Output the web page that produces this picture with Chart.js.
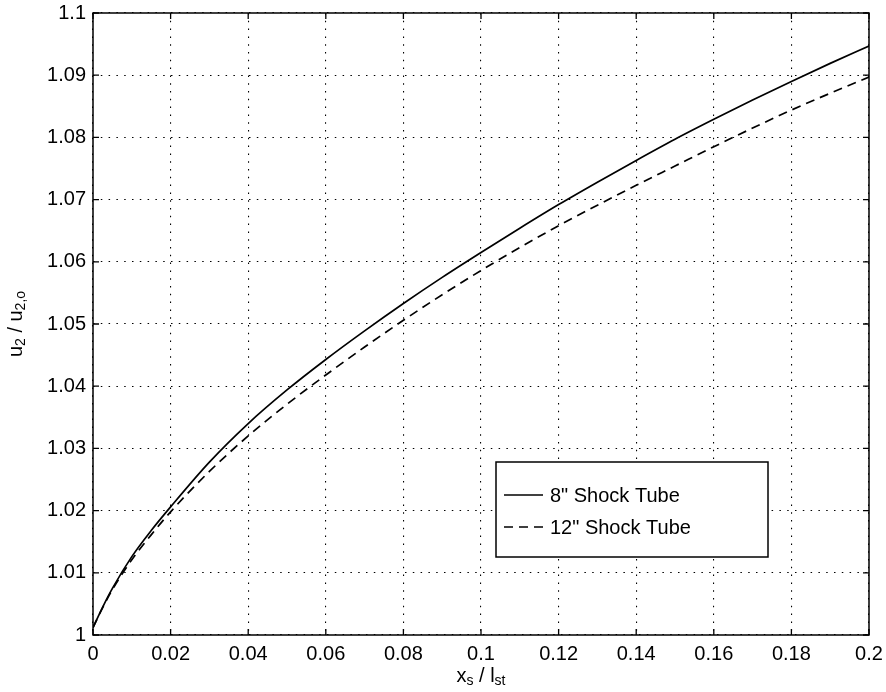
<!DOCTYPE html>
<html lang="en">
<head>
<meta charset="UTF-8">
<title>u2 / u2,o vs xs / lst</title>
<style>
  html, body { margin: 0; padding: 0; background: #fff; }
  #wrap { width: 886px; height: 692px; }
</style>
</head>
<body>
<div id="wrap"><canvas id="chart" width="886" height="692"></canvas></div>

<script src="https://cdn.jsdelivr.net/npm/chart.js"></script>
<script>
  // shock position along the tube, normalised
  const xPos = [0, 0.0025, 0.005, 0.01, 0.015, 0.02, 0.03, 0.04, 0.05, 0.06, 0.07, 0.08, 0.09,
                0.1, 0.11, 0.12, 0.13, 0.14, 0.15, 0.16, 0.17, 0.18, 0.19, 0.2];
  // velocity ratio, 8 inch tube
  const tube8 = [1.0012, 1.0045, 1.0075, 1.0126, 1.0168, 1.0206, 1.0278, 1.0340, 1.0394, 1.0443,
                 1.0489, 1.0533, 1.0575, 1.0615, 1.0654, 1.0692, 1.0728, 1.0763, 1.0797, 1.0829,
                 1.0860, 1.0890, 1.0919, 1.0947];
  // velocity ratio, 12 inch tube
  const tube12 = [1.0012, 1.0044, 1.0073, 1.0121, 1.0161, 1.0198, 1.0263, 1.0320, 1.0371, 1.0418,
                  1.0463, 1.0506, 1.0547, 1.0586, 1.0623, 1.0658, 1.0691, 1.0723, 1.0754, 1.0785,
                  1.0815, 1.0844, 1.0871, 1.0897];

  const xTickLabels = ['0', '0.02', '0.04', '0.06', '0.08', '0.1', '0.12', '0.14', '0.16', '0.18', '0.2'];
  const yTickLabels = ['1', '1.01', '1.02', '1.03', '1.04', '1.05', '1.06', '1.07', '1.08', '1.09', '1.1'];
  const seriesNames = ['8" Shock Tube', '12" Shock Tube'];

  const FONT = '"Liberation Sans", Arial, Helvetica, sans-serif';
  const DASH = [9, 6];

  // text with subscript pieces: parts = [[text, isSub], ...]
  function subTextWidth(ctx, parts, size) {
    let w = 0;
    parts.forEach(p => {
      ctx.font = (p[1] ? Math.round(size * 0.68) : size) + 'px ' + FONT;
      w += ctx.measureText(p[0]).width;
    });
    return w;
  }
  function drawSubText(ctx, parts, size, x, y) {
    let cx = x;
    parts.forEach(p => {
      ctx.font = (p[1] ? Math.round(size * 0.68) : size) + 'px ' + FONT;
      ctx.fillText(p[0], cx, p[1] ? y + size * 0.28 : y);
      cx += ctx.measureText(p[0]).width;
    });
  }

  // frame, inward ticks, axis titles and the boxed legend
  const decor = {
    id: 'decor',
    afterDraw(chart) {
      const ctx = chart.ctx;
      const a = chart.chartArea;
      const xs = chart.scales.x, ys = chart.scales.y;
      ctx.save();
      ctx.strokeStyle = '#000';
      ctx.fillStyle = '#000';
      ctx.lineWidth = 1.5;
      ctx.setLineDash([]);
      ctx.strokeRect(a.left, a.top, a.right - a.left, a.bottom - a.top);

      const tl = 6;
      ctx.lineWidth = 1.3;
      ctx.beginPath();
      xs.ticks.forEach(t => {
        const px = xs.getPixelForValue(t.value);
        ctx.moveTo(px, a.bottom); ctx.lineTo(px, a.bottom - tl);
        ctx.moveTo(px, a.top); ctx.lineTo(px, a.top + tl);
      });
      ys.ticks.forEach(t => {
        const py = ys.getPixelForValue(t.value);
        ctx.moveTo(a.left, py); ctx.lineTo(a.left + tl, py);
        ctx.moveTo(a.right, py); ctx.lineTo(a.right - tl, py);
      });
      ctx.stroke();

      // axis titles
      ctx.textBaseline = 'middle';
      ctx.textAlign = 'left';
      const xt = [['x', false], ['s', true], [' / l', false], ['st', true]];
      const xw = subTextWidth(ctx, xt, 20);
      drawSubText(ctx, xt, 20, (a.left + a.right) / 2 - xw / 2, 676);

      const yt = [['u', false], ['2', true], [' / u', false], ['2,o', true]];
      const yw = subTextWidth(ctx, yt, 20);
      ctx.save();
      ctx.translate(16, (a.top + a.bottom) / 2);
      ctx.rotate(-Math.PI / 2);
      drawSubText(ctx, yt, 20, -yw / 2, 0);
      ctx.restore();

      // legend
      const lx = 496, ly = 462, lw = 272, lh = 95;
      ctx.fillStyle = '#fff';
      ctx.fillRect(lx, ly, lw, lh);
      ctx.lineWidth = 1.5;
      ctx.strokeStyle = '#000';
      ctx.strokeRect(lx, ly, lw, lh);
      const rows = [495, 527];
      ctx.font = '20px ' + FONT;
      ctx.fillStyle = '#000';
      chart.data.datasets.forEach((ds, i) => {
        ctx.lineWidth = 1.5;
        ctx.setLineDash(ds.borderDash || []);
        ctx.beginPath();
        ctx.moveTo(504, rows[i]);
        ctx.lineTo(543, rows[i]);
        ctx.stroke();
        ctx.setLineDash([]);
        ctx.fillText(ds.label, 550, rows[i] + 1);
      });
      ctx.restore();
    }
  };

  const ctx = document.getElementById('chart').getContext('2d');
  new Chart(ctx, {
    type: 'line',
    data: {
      datasets: [
        {
          label: seriesNames[0],
          data: xPos.map((x, i) => ({ x, y: tube8[i] })),
          borderColor: '#000',
          borderWidth: 1.7,
          pointRadius: 0,
          cubicInterpolationMode: 'monotone'
        },
        {
          label: seriesNames[1],
          data: xPos.map((x, i) => ({ x, y: tube12[i] })),
          borderColor: '#000',
          borderWidth: 1.7,
          borderDash: DASH,
          pointRadius: 0,
          cubicInterpolationMode: 'monotone'
        }
      ]
    },
    options: {
      responsive: false,
      animation: false,
      layout: { padding: { top: 13, right: 17, left: 0, bottom: 0 } },
      plugins: { legend: { display: false }, tooltip: { enabled: false } },
      scales: {
        x: {
          type: 'linear',
          min: 0, max: 0.2,
          afterBuildTicks: s => { s.ticks = xTickLabels.map(v => ({ value: parseFloat(v) })); },
          afterFit: s => { s.height = 57; s.paddingLeft = 0; s.paddingRight = 0; },
          ticks: {
            color: '#000',
            font: { family: FONT, size: 20 },
            padding: 7,
            maxRotation: 0,
            autoSkip: false,
            callback: (v, i) => xTickLabels[i]
          },
          grid: { color: '#000', lineWidth: 1.1, drawTicks: false },
          border: { display: false, dash: [1.5, 6.3] }
        },
        y: {
          type: 'linear',
          min: 1, max: 1.1,
          afterBuildTicks: s => { s.ticks = yTickLabels.map(v => ({ value: parseFloat(v) })); },
          afterFit: s => { s.width = 93; s.paddingTop = 0; s.paddingBottom = 0; },
          ticks: {
            color: '#000',
            font: { family: FONT, size: 20 },
            padding: 7,
            autoSkip: false,
            callback: (v, i) => yTickLabels[i]
          },
          grid: { color: '#000', lineWidth: 1.1, drawTicks: false },
          border: { display: false, dash: [1.5, 6.3] }
        }
      }
    },
    plugins: [decor]
  });
</script>
</body>
</html>
